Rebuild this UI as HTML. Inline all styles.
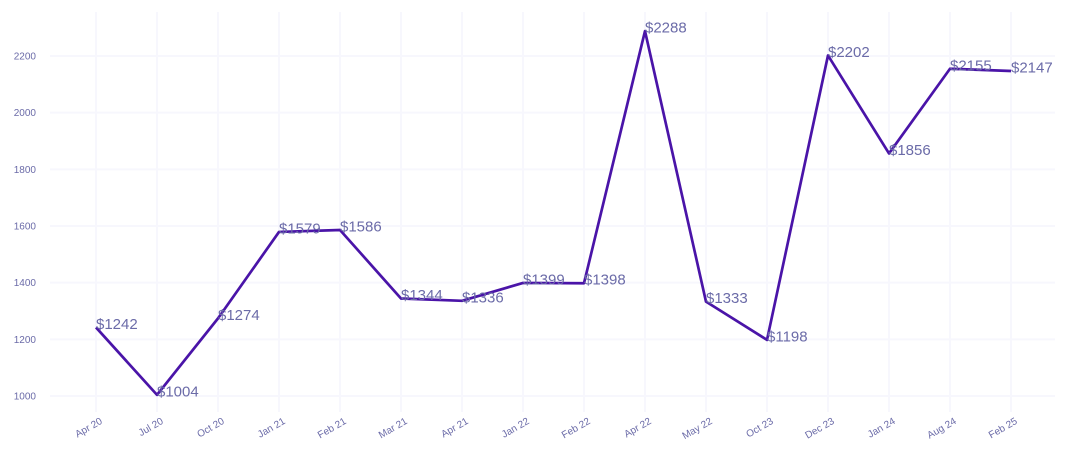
<!DOCTYPE html>
<html><head><meta charset="utf-8"><style>
body{margin:0;background:#fff;}
svg{display:block;font-family:"Liberation Sans",sans-serif;}
</style></head><body>
<svg id="chart" width="1070" height="465" viewBox="0 0 1070 465">
<g id="grid"></g>
<g id="yaxis"></g>
<g id="xaxis"></g>
<g id="series"></g>
</svg>
<script>
const categories=["Apr 20","Jul 20","Oct 20","Jan 21","Feb 21","Mar 21","Apr 21","Jan 22","Feb 22","Apr 22","May 22","Oct 23","Dec 23","Jan 24","Aug 24","Feb 25"];
const values=[1242,1004,1274,1579,1586,1344,1336,1399,1398,2288,1333,1198,2202,1856,2155,2147];
const yTicks=[1000,1200,1400,1600,1800,2000,2200];
const NS="http://www.w3.org/2000/svg";
const x0=96,step=61;
function xs(i){return x0+i*step;}
function ys(v){return 396-(v-1000)*(340/1200);}
function mk(t,a,p){const e=document.createElementNS(NS,t);for(const k in a)e.setAttribute(k,a[k]);p.appendChild(e);return e;}
const grid=document.getElementById('grid'),ya=document.getElementById('yaxis'),xa=document.getElementById('xaxis'),se=document.getElementById('series');
yTicks.forEach(v=>{
 const l=mk('line',{x1:50,x2:1055,y1:ys(v),y2:ys(v),stroke:'#f7f7fd','stroke-width':2},grid);
 
 
 const t=mk('text',{x:36,y:ys(v)+3.5,'text-anchor':'end','font-size':10,fill:'#6b6ba8'},ya);
 t.textContent=v;
 
 
});
categories.forEach((c,i)=>{
 const l=mk('line',{x1:xs(i),x2:xs(i),y1:12,y2:412,stroke:'#f7f7fd','stroke-width':2},grid);
 
 
 const t=mk('text',{x:xs(i)+7,y:423,'text-anchor':'end','font-size':10,fill:'#6b6ba8',transform:`rotate(-30 ${xs(i)+7} 423)`},xa);
 t.textContent=c;
 
 
});
const d=values.map((v,i)=>(i?'L':'M')+xs(i)+' '+ys(v)).join(' ');
const p=mk('path',{d:d,fill:'none',stroke:'#4a14a8','stroke-width':2.7,'stroke-linejoin':'round'},se);


values.forEach((v,i)=>{
 const t=mk('text',{x:xs(i),y:ys(v)+1.5,'font-size':15,fill:'#6b6ba8'},se);
 t.textContent='$'+v;
 
 
});
</script>
</body></html>
